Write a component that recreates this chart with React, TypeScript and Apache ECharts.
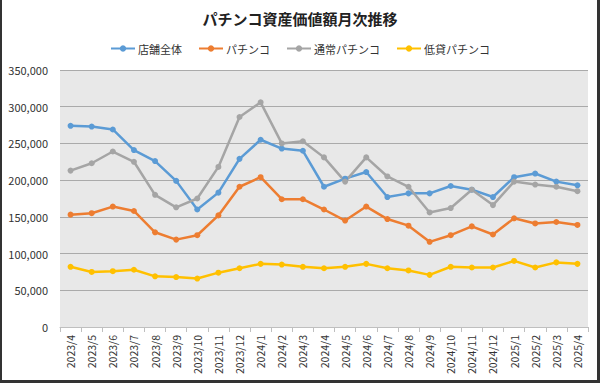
import React, { useEffect, useRef } from "react";
import * as echarts from "echarts";

const categories = [
  "2023/4", "2023/5", "2023/6", "2023/7", "2023/8", "2023/9", "2023/10", "2023/11", "2023/12",
  "2024/1", "2024/2", "2024/3", "2024/4", "2024/5", "2024/6", "2024/7", "2024/8", "2024/9",
  "2024/10", "2024/11", "2024/12", "2025/1", "2025/2", "2025/3", "2025/4",
];

const storeTotal = [
  274000, 273000, 269000, 241000, 226000, 199000, 160000, 183000, 229000,
  255000, 243000, 240000, 191000, 202000, 211000, 177000, 182000, 182000,
  192000, 187000, 177000, 204000, 209000, 198000, 193000,
];
const pachinko = [
  153000, 155000, 164000, 158000, 129000, 119000, 125000, 152000, 191000,
  204000, 174000, 174000, 160000, 145000, 164000, 147000, 138000, 116000,
  125000, 137000, 126000, 148000, 141000, 143000, 139000,
];
const normalPachinko = [
  213000, 223000, 239000, 225000, 180000, 163000, 175000, 218000, 286000,
  306000, 250000, 253000, 231000, 198000, 231000, 205000, 191000, 156000,
  162000, 187000, 166000, 198000, 194000, 191000, 185000,
];
const lowRatePachinko = [
  82000, 75000, 76000, 78000, 69000, 68000, 66000, 74000, 80000,
  86000, 85000, 82000, 80000, 82000, 86000, 80000, 77000, 71000,
  82000, 81000, 81000, 90000, 81000, 88000, 86000,
];

const seriesNames = ["店舗全体", "パチンコ", "通常パチンコ", "低貸パチンコ"];
const seriesColors = ["#5B9BD5", "#ED7D31", "#A5A5A5", "#FFC000"];

const FONT = "'Noto Sans CJK JP', 'Noto Sans', sans-serif";

export default function App() {
  const ref = useRef<HTMLDivElement>(null);
  useEffect(() => {
    if (!ref.current) return;
    const chart = echarts.init(ref.current, null, { renderer: "svg" });
    const data = [storeTotal, pachinko, normalPachinko, lowRatePachinko];
    chart.setOption({
      animation: false,
      backgroundColor: "#ffffff",
      textStyle: { fontFamily: FONT },
      title: {
        text: "パチンコ資産価値額月次推移",
        left: "center",
        top: 6,
        textStyle: { fontSize: 15, fontWeight: "bold", color: "#222", fontFamily: FONT },
      },
      legend: {
        top: 38,
        left: "center",
        itemWidth: 24,
        itemHeight: 8,
        itemGap: 16,
        textStyle: { fontSize: 11, color: "#333", fontFamily: FONT, padding: [0, 0, 0, -2] },
        data: seriesNames,
      },
      grid: { left: 60, right: 12, top: 70, bottom: 56, containLabel: false,
        show: true, backgroundColor: "#e8e8e8", borderWidth: 0 },
      xAxis: {
        type: "category",
        data: categories,
        boundaryGap: true,
        axisLine: { lineStyle: { color: "#bfbfbf" } },
        axisTick: { show: true, length: 5, lineStyle: { color: "#bfbfbf" } },
        axisLabel: { rotate: 90, fontSize: 10.5, color: "#333", margin: 8, interval: 0, fontFamily: FONT },
      },
      yAxis: {
        type: "value",
        min: 0,
        max: 350000,
        interval: 50000,
        axisLine: { show: false },
        axisTick: { show: false },
        axisLabel: {
          fontSize: 11,
          color: "#333",
          margin: 12,
          fontFamily: FONT,
          formatter: (v: number) => v.toLocaleString("en-US"),
        },
        splitLine: { lineStyle: { color: "#aaaaaa", width: 1 } },
      },
      series: seriesNames.map((name, i) => ({
        name,
        type: "line",
        data: data[i],
        symbol: "circle",
        symbolSize: 6,
        itemStyle: { color: seriesColors[i] },
        lineStyle: { color: seriesColors[i], width: 2.5 },
      })),
      graphic: [
        { type: "rect", left: 0, top: 0, shape: { width: 2, height: 383 }, style: { fill: "#333" } },
        { type: "rect", right: 0, top: 0, shape: { width: 3, height: 383 }, style: { fill: "#333" } },
        { type: "rect", left: 0, bottom: 0, shape: { width: 600, height: 3 }, style: { fill: "#333" } },
      ],
    });
    return () => chart.dispose();
  }, []);
  return (
    <div
      ref={ref}
      style={{ position: "fixed", left: 0, top: 0, width: 600, height: 383 }}
    />
  );
}
